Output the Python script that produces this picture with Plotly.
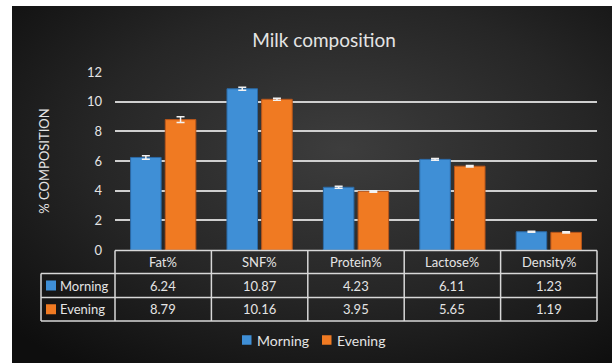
import base64
import plotly.graph_objects as go

# Milk composition by milking time
categories = ["Fat%", "SNF%", "Protein%", "Lactose%", "Density%"]
morning = [6.24, 10.87, 4.23, 6.11, 1.23]
evening = [8.79, 10.16, 3.95, 5.65, 1.19]
morning_err = [0.12, 0.10, 0.06, 0.06, 0.04]
evening_err = [0.20, 0.07, 0.05, 0.05, 0.04]
series_names = ["Morning", "Evening"]
y_ticks = [0, 2, 4, 6, 8, 10, 12]

BLUE = "#3f8fd6"
ORANGE = "#f07a22"
TEXT = "#e4e4e4"
GRID = "#cfcfcf"
FONT = "Lato"

W, H = 612, 363
L, R, T, B = 115, 15, 72, 113
pw, ph = W - L - R, H - T - B


def px_x(px):
    return (px - L) / pw


def px_y(py):
    return (H - B - py) / ph


fig = go.Figure()
for name, vals, errs, col, edge in [
    (series_names[0], morning, morning_err, BLUE, "#2b6aa6"),
    (series_names[1], evening, evening_err, ORANGE, "#b9561a"),
]:
    fig.add_trace(go.Bar(
        name=name, x=categories, y=vals, showlegend=False,
        marker=dict(color=col, line=dict(color=edge, width=1)),
        error_y=dict(type="data", array=errs, visible=True,
                     color="#f2f2f2", thickness=1.5, width=4),
    ))

# Radial dark background panel
svg = (
    '<svg xmlns="http://www.w3.org/2000/svg" width="600" height="357" '
    'preserveAspectRatio="none" viewBox="0 0 600 357">'
    '<defs><radialGradient id="g" cx="0.55" cy="0.4" r="0.75">'
    '<stop offset="0" stop-color="#3d3d3d"/>'
    '<stop offset="0.55" stop-color="#262626"/>'
    '<stop offset="1" stop-color="#0e0e0e"/>'
    '</radialGradient></defs>'
    '<rect width="600" height="357" fill="url(#g)"/></svg>'
)
src = "data:image/svg+xml;base64," + base64.b64encode(svg.encode()).decode()
fig.add_layout_image(dict(
    source=src, xref="paper", yref="paper",
    x=px_x(12), y=px_y(6), sizex=px_x(W) - px_x(12), sizey=px_y(6) - px_y(H),
    xanchor="left", yanchor="top", sizing="stretch", layer="below",
))

# Data table beneath the plot
shapes = []
line = dict(color="#d8d8d8", width=1.5)
row_y = [px_y(250.5), px_y(273.5), px_y(297.5), px_y(321)]
left_x = px_x(41)
n = len(categories)
# horizontal rules
shapes.append(dict(type="line", xref="paper", yref="paper", x0=0, x1=1, y0=row_y[0], y1=row_y[0], line=line))
for yy in row_y[1:]:
    shapes.append(dict(type="line", xref="paper", yref="paper", x0=left_x, x1=1, y0=yy, y1=yy, line=line))
# vertical rules
for i in range(n + 1):
    shapes.append(dict(type="line", xref="paper", yref="paper", x0=i / n, x1=i / n,
                       y0=row_y[0], y1=row_y[3], line=line))
shapes.append(dict(type="line", xref="paper", yref="paper", x0=left_x, x1=left_x,
                   y0=row_y[1], y1=row_y[3], line=line))

cell_font = dict(family=FONT, size=13, color=TEXT)
annotations = []
hdr_y = (row_y[0] + row_y[1]) / 2
for cat in categories:
    annotations.append(dict(x=cat, xref="x", y=hdr_y, yref="paper", text=cat, showarrow=False,
                            xanchor="center", yanchor="middle", font=cell_font))
colors = [BLUE, ORANGE]
for r, (name, vals, col) in enumerate(zip(series_names, [morning, evening], colors)):
    yc = (row_y[r + 1] + row_y[r + 2]) / 2
    for cat, v in zip(categories, vals):
        annotations.append(dict(x=cat, xref="x", y=yc, yref="paper", text=f"{v:.2f}", showarrow=False,
                                xanchor="center", yanchor="middle", font=cell_font))
    # table row key and series name
    shapes.append(dict(type="rect", xref="paper", yref="paper",
                       x0=px_x(46), x1=px_x(56), y0=yc - 5 / ph, y1=yc + 5 / ph,
                       fillcolor=col, line=dict(width=0)))
    annotations.append(dict(x=px_x(58), xref="paper", y=yc, yref="paper", text=name, showarrow=False,
                            xanchor="left", yanchor="middle", font=cell_font))

# Bottom legend
leg_y = px_y(340)
for name, col, kx in zip(series_names, colors, [242, 322]):
    shapes.append(dict(type="rect", xref="paper", yref="paper",
                       x0=px_x(kx), x1=px_x(kx + 9.5), y0=leg_y - 4.75 / ph, y1=leg_y + 4.75 / ph,
                       fillcolor=col, line=dict(width=0)))
    annotations.append(dict(x=px_x(kx + 13), xref="paper", y=leg_y, yref="paper", text=name,
                            showarrow=False, xanchor="left", yanchor="middle",
                            font=dict(family=FONT, size=14, color=TEXT)))

fig.update_layout(
    width=W, height=H,
    margin=dict(l=L, r=R, t=T, b=B, pad=0),
    paper_bgcolor="white", plot_bgcolor="rgba(0,0,0,0)",
    title=dict(text="Milk composition", x=px_x(324), xref="paper", xanchor="center",
               y=1 - 40 / H, yref="container", yanchor="middle",
               font=dict(family=FONT, size=19, color=TEXT)),
    barmode="group", bargap=0.28, bargroupgap=0.12,
    showlegend=False,
    shapes=shapes, annotations=annotations,
    xaxis=dict(showticklabels=False, showgrid=False, zeroline=False, showline=False, ticks=""),
    yaxis=dict(range=[0, 12], tickvals=y_ticks, showgrid=True, gridcolor=GRID, gridwidth=1.5,
               zeroline=False, showline=False, ticks="", ticklabelstandoff=12,
               tickfont=dict(family=FONT, size=13, color=TEXT),
               title=dict(text="% COMPOSITION", standoff=34,
                          font=dict(family=FONT, size=13, color=TEXT))),
)

fig.write_html("out.html")
